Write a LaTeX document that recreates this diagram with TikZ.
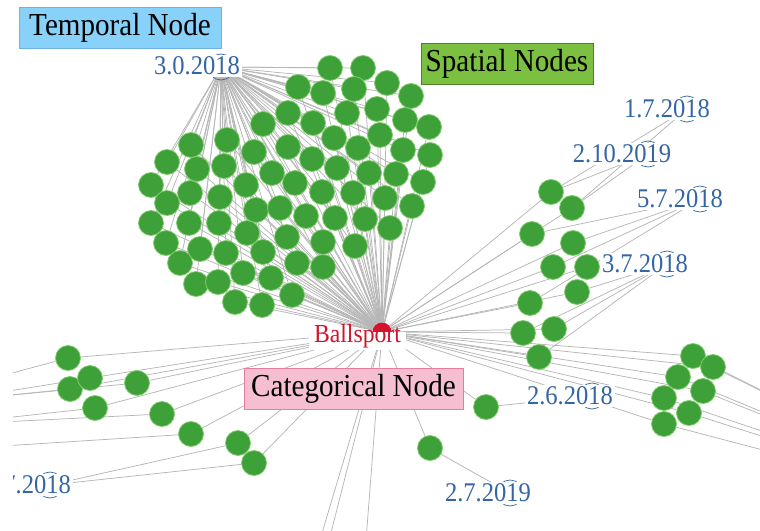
\documentclass[tikz,border=0pt]{standalone}
\usepackage{fontspec}
\setmainfont{Liberation Serif}
\newfontfamily\lblfont{Liberation Serif}[FakeStretch=0.91]
\pgfdeclarelayer{edgelayer}
\pgfsetlayers{edgelayer,main}
\definecolor{edgegray}{RGB}{182,182,182}
\definecolor{nodegreen}{RGB}{62,160,56}
\definecolor{nodeedge}{RGB}{130,205,110}
\definecolor{dateblue}{RGB}{52,101,164}
\definecolor{sportred}{RGB}{210,20,45}
\definecolor{tempfill}{RGB}{136,210,249}
\definecolor{tempedge}{RGB}{110,178,228}
\definecolor{spatfill}{RGB}{124,192,66}
\definecolor{spatedge}{RGB}{78,128,40}
\definecolor{catfill}{RGB}{245,190,209}
\definecolor{catedge}{RGB}{228,125,160}
\begin{document}
\begin{tikzpicture}[x=1pt,y=-1pt,
  edge/.style={draw=edgegray,line width=0.75pt},
  spot/.style={circle,fill=nodegreen,draw=nodeedge,line width=0.8pt,minimum size=25pt,inner sep=0pt},
  datelbl/.style={fill=white,text=dateblue,font=\lblfont\fontsize{27}{29}\selectfont,inner sep=2pt},
  datering/.style={circle,draw=dateblue,line width=0.7pt,minimum size=26pt,inner sep=0pt},
  keybox/.style={line width=1pt,font=\lblfont\fontsize{32}{34}\selectfont,inner sep=0pt,minimum height=41pt}]
\useasboundingbox (0,0) rectangle (760,530);
\clip (13,0) rectangle (760,530);

% hubs of the temporal labels (hidden under the label text)
\coordinate (th) at (221,67);
\coordinate (d17) at (687,109);
\coordinate (d210) at (648,154);
\coordinate (d57) at (700,199);
\coordinate (d37) at (667,264);
\coordinate (d26) at (592,396);
\coordinate (d27) at (510,493);
\coordinate (dl) at (50,485);

% far ends of edges leaving the frame
\coordinate (offR) at (1010,515);
\coordinate (offA) at (-40,387);
\coordinate (offB) at (-60,402);
\coordinate (offC) at (-60,425);
\coordinate (offD) at (-60,450);
\coordinate (offS1) at (308,580);
\coordinate (offS2) at (319,580);
\coordinate (offS3) at (363,580);

% temporal labels
\foreach \h/\c/\t in {th/{197,66}/3.0.2018, d17/{667,109}/1.7.2018, d210/{622,154}/2.10.2019,
  d57/{680,199}/5.7.2018, d37/{645,264}/3.7.2018, d26/{570,396}/2.6.2018,
  d27/{488,493}/2.7.2019, dl/{28,485}/2.7.2018} {
  \node[datering] (\h ring) at (\h) {};
  \node[datelbl] (\h lbl) at (\c) {\t};
}

% spatial nodes, upper cluster
\foreach \px/\py [count=\i] in {330/68,363/68,298/87,323/93,354/89,387/83,411/96,
  288/113,313/123,347/113,377/109,405/120,429/127,
  263/124,334/138,358/148,380/135,403/150,430/155,
  191/145,227/140,254/152,288/147,312/159,
  167/162,197/169,224/166,272/173,337/168,369/173,396/174,423/182,
  151/185,190/193,220/197,246/185,295/183,322/192,353/193,385/198,412/206,
  167/203,256/210,280/208,306/216,335/218,365/219,390/228,
  151/223,189/223,219/223,247/233,287/237,323/242,355/246,
  166/243,200/249,226/253,263/252,
  180/263,243/273,271/278,297/263,323/267,
  196/284,218/282,292/295,235/302,262/305}
  \node[spot] (s\i) at (\px,\py) {};

% spatial nodes, right column
\foreach \px/\py [count=\i] in {551/192,572/208,532/234,573/243,553/267,587/267,
  577/292,530/303,554/329,523/333,539/357}
  \node[spot] (r\i) at (\px,\py) {};

% spatial nodes, far right group
\foreach \px/\py [count=\i] in {693/356,713/367,678/377,703/391,664/398,689/413,664/424}
  \node[spot] (f\i) at (\px,\py) {};

% spatial nodes, lower left
\foreach \px/\py [count=\i] in {68/358,70/389,90/378,137/383,95/408,162/414,191/434,238/443,254/463}
  \node[spot] (l\i) at (\px,\py) {};

\node[spot] (a2) at (486,407) {};
\node[spot] (a3) at (430,448) {};

% categorical node
\node[circle,fill=sportred,minimum size=19pt,inner sep=0pt] (bs) at (382,332) {};
\node[fill=white,minimum width=97pt,minimum height=18pt,inner sep=0pt] (bsmask) at (357.5,341) {};
\node[anchor=base,text=sportred,font=\lblfont\fontsize{26}{28}\selectfont,inner sep=0pt] (bslbl) at (357.5,342.5) {Ballsport};

% legend boxes
\node[keybox,draw=tempedge,fill=tempfill,minimum width=202pt] (keytemp) at (120,28) {Temporal Node};
\node[keybox,draw=spatedge,fill=spatfill,minimum width=172pt] (keyspat) at (507,63.5) {Spatial Nodes};
\node[keybox,draw=catedge,fill=catfill,minimum width=219pt] (keycat) at (353.5,388.5) {Categorical Node};

% edges
\begin{pgfonlayer}{edgelayer}
\clip (13,0) rectangle (760,530);
\foreach \i in {1,...,69} {
  \draw[edge] (bs) -- (s\i);
  \draw[edge] (th) -- (s\i);
}
\foreach \i in {1,...,11} \draw[edge] (bs) -- (r\i);
\foreach \i in {1,2} {
  \draw[edge] (d17) -- (r\i);
  \draw[edge] (d210) -- (r\i);
}
\foreach \i in {3,4,5,8} \draw[edge] (d57) -- (r\i);
\foreach \i in {6,7,9,10,11} \draw[edge] (d37) -- (r\i);
\foreach \i in {1,...,7} {
  \draw[edge] (bs) -- (f\i);
  \draw[edge] (f\i) -- (offR);
}
\foreach \i in {1,...,9} \draw[edge] (bs) -- (l\i);
\draw[edge] (l1) -- (offA);
\foreach \i in {2,3,4} \draw[edge] (l\i) -- (offB);
\foreach \i in {5,6} \draw[edge] (l\i) -- (offC);
\draw[edge] (l7) -- (offD);
\draw[edge] (dl) -- (l8);
\draw[edge] (dl) -- (l9);
\draw[edge] (bs) -- (a2);
\draw[edge] (a2) -- (d26);
\draw[edge] (bs) -- (a3);
\draw[edge] (a3) -- (d27);
\draw[edge] (bs) -- (offS1);
\draw[edge] (bs) -- (offS2);
\draw[edge] (bs) -- (offS3);
\end{pgfonlayer}
\end{tikzpicture}
\end{document}
